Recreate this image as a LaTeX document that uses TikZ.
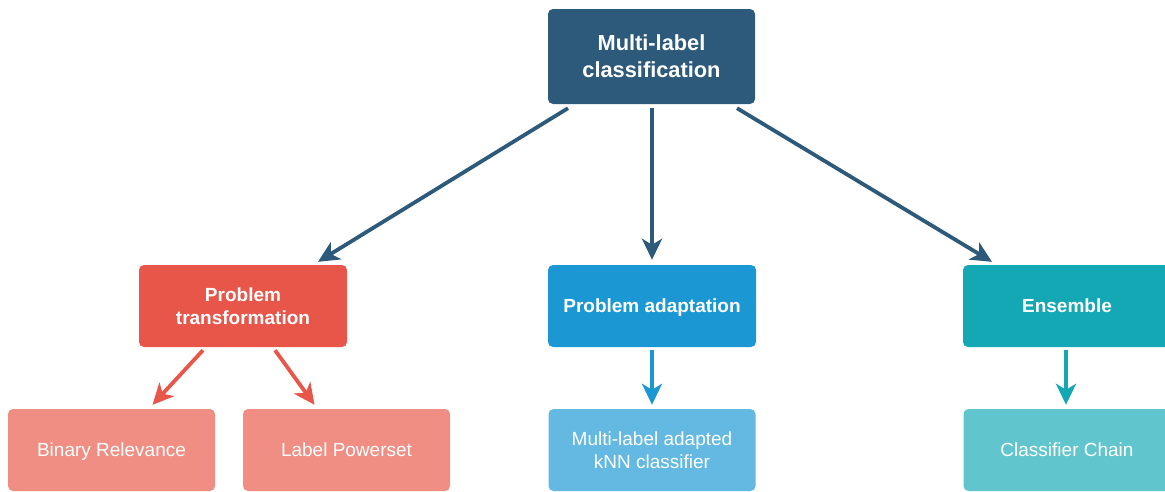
\documentclass[tikz,border=0pt]{standalone}
\usepackage{fontspec}
\setmainfont{Liberation Sans}
\usetikzlibrary{arrows.meta}
\definecolor{cTop}{HTML}{2D5A7B}
\definecolor{cPT}{HTML}{E8564A}
\definecolor{cPTl}{HTML}{F08E83}
\definecolor{cPA}{HTML}{1B98D3}
\definecolor{cPAl}{HTML}{63B9E2}
\definecolor{cEn}{HTML}{13A8B4}
\definecolor{cEnl}{HTML}{61C5CD}
\newcommand{\nodepth}[1]{\raisebox{0pt}[\height][0pt]{#1}}
\tikzset{
  box/.style={rounded corners=5pt, inner sep=0pt, align=center, text=white},
  topbox/.style={box, fill=cTop, minimum width=207pt, minimum height=95pt, font=\fontsize{21.8}{27}\selectfont\bfseries},
  midbox/.style={box, minimum width=208pt, minimum height=82pt, font=\fontsize{19}{23}\selectfont\bfseries},
  lowbox/.style={box, minimum width=207pt, minimum height=82pt, font=\fontsize{19}{23}\selectfont},
  arr/.style={line width=3.8pt, -{Stealth[length=21pt, width=20pt, inset=6pt]}},
}
\begin{document}
\begin{tikzpicture}[x=1pt, y=-1pt]
\useasboundingbox (0,0) rectangle (1165,491);
\clip (0,0) rectangle (1165,491);
\node[topbox] (top) at (651.5,56.5) {Multi-label\\classification};
\node[midbox, fill=cPT] (pt) at (243,306) {Problem\\transformation};
\node[midbox, fill=cPA] (pa) at (652,306) {\nodepth{Problem adaptation}};
\node[midbox, fill=cEn] (en) at (1067,306) {Ensemble};
\node[lowbox, fill=cPTl] (br) at (111.5,450) {\nodepth{Binary Relevance}};
\node[lowbox, fill=cPTl] (lp) at (346.5,450) {Label Powerset};
\node[lowbox, fill=cPAl] (knn) at (652,450) {Multi-label adapted\\kNN classifier};
\node[lowbox, fill=cEnl] (cc) at (1067,450) {Classifier Chain};
\draw[arr, cTop] ([xshift=-83.5pt, yshift=-4pt]top.south) -- ([xshift=75pt, yshift=3pt]pt.north);
\draw[arr, cTop] ([xshift=0.5pt, yshift=-4pt]top.south) -- ([yshift=5pt]pa.north);
\draw[arr, cTop] ([xshift=85.5pt, yshift=-4pt]top.south) -- ([xshift=-75pt, yshift=3pt]en.north);
\draw[arr, cPT] ([xshift=-40pt, yshift=-3pt]pt.south) -- ([xshift=41pt, yshift=4pt]br.north);
\draw[arr, cPT] ([xshift=32pt, yshift=-3pt]pt.south) -- ([xshift=-32pt, yshift=4pt]lp.north);
\draw[arr, cPA] ([yshift=-3pt]pa.south) -- ([yshift=4pt]knn.north);
\draw[arr, cEn] ([xshift=-1pt, yshift=-3pt]en.south) -- ([xshift=-1pt, yshift=4pt]cc.north);
\end{tikzpicture}
\end{document}
